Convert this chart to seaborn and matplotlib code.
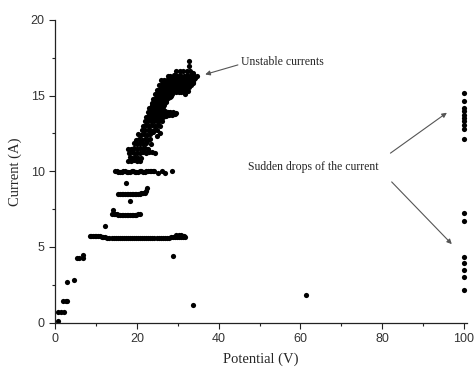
import matplotlib
matplotlib.use("Agg")
import matplotlib.pyplot as plt
import seaborn as sns
import pandas as pd
from matplotlib.ticker import MultipleLocator

sns.set_style("ticks")
plt.rcParams['font.family'] = ['Liberation Sans', 'DejaVu Sans']

# low-voltage ramp
ramp_x = [0.8, 0.8, 1.5, 2.1, 2.0, 2.6, 3.0, 2.9, 4.6, 5.3, 5.9, 6.7, 6.7]
ramp_y = [0.13, 0.71, 0.71, 0.71, 1.46, 1.46, 1.46, 2.72, 2.83, 4.3, 4.3, 4.5, 4.27]

# plateau around 5.6 A
plat_x = [8.5, 8.9, 9.3, 9.7, 10.1, 10.5, 10.9, 11.4, 11.8, 12.3, 12.8, 13.3, 13.8,
          14.3, 14.8, 15.3, 15.8, 16.3, 16.8, 17.3, 17.8, 18.3, 18.8, 19.3, 19.8,
          20.3, 20.8, 21.3, 21.8, 22.3, 22.8, 23.3, 23.8, 24.3, 24.8, 25.3, 25.8,
          26.3, 26.8, 27.3, 27.8, 28.3, 28.8, 29.3, 29.8, 30.3, 30.8, 31.3, 31.8,
          29.5, 30.2, 30.9, 31.5, 12.3, 28.8]
plat_y = [5.74, 5.74, 5.73, 5.73, 5.72, 5.71, 5.70, 5.68, 5.66, 5.64, 5.62, 5.62, 5.62,
          5.62, 5.62, 5.62, 5.62, 5.62, 5.62, 5.62, 5.62, 5.62, 5.62, 5.62, 5.62,
          5.62, 5.62, 5.62, 5.62, 5.62, 5.62, 5.62, 5.62, 5.62, 5.62, 5.62, 5.62,
          5.62, 5.62, 5.62, 5.62, 5.63, 5.64, 5.65, 5.66, 5.66, 5.66, 5.66, 5.64,
          5.76, 5.78, 5.76, 5.74, 6.36, 4.42]

# steps at ~7.2, ~8.5 and ~10 A
step_x = [13.9, 14.3, 14.7, 15.1, 15.5, 15.9, 16.3, 16.7, 17.1, 17.5, 17.9, 18.3,
          18.7, 19.1, 19.5, 19.9, 20.3, 20.7, 14.2,
          15.5, 15.9, 16.3, 16.7, 17.1, 17.5, 17.9, 18.3, 18.7, 19.1, 19.5, 19.9,
          20.3, 20.7, 21.1, 21.5, 21.9, 22.3, 22.4, 18.3, 17.4,
          14.7, 15.1, 15.5, 15.9, 16.3, 16.7, 17.1, 17.5, 17.9, 18.3, 18.7, 19.1,
          19.5, 19.9, 20.3, 20.7, 21.1, 21.5, 21.9, 22.3, 22.7, 23.1, 23.5, 23.9,
          24.3, 25.2, 26.2, 26.9, 28.6]
step_y = [7.18, 7.16, 7.15, 7.15, 7.14, 7.14, 7.14, 7.14, 7.14, 7.14, 7.14, 7.14,
          7.14, 7.14, 7.14, 7.14, 7.15, 7.16, 7.42,
          8.52, 8.52, 8.5, 8.5, 8.5, 8.5, 8.5, 8.5, 8.5, 8.5, 8.5, 8.5,
          8.5, 8.52, 8.54, 8.56, 8.6, 8.7, 8.9, 8.06, 9.25,
          10.0, 10.0, 9.98, 9.98, 9.98, 10.0, 10.0, 9.98, 9.98, 9.98, 10.0, 10.0,
          9.98, 9.98, 9.98, 10.0, 10.0, 9.98, 9.98, 10.0, 10.0, 10.02, 10.0, 10.0,
          10.0, 9.9, 10.05, 9.9, 10.0]

# rising band 10.5 - 17.3 A
band_x = [17.9, 18.6, 19.3, 20.0, 20.7,
          18.2, 18.9, 19.6, 20.3, 21.0,
          18.0, 18.7, 19.4, 20.1, 20.8, 21.5, 22.2, 23.0, 23.8, 24.4,
          17.9, 18.6, 19.3, 20.0, 20.7, 21.4, 22.1, 22.8,
          19.4, 20.1, 20.8, 21.5, 22.2, 23.4,
          19.8, 20.5, 21.2, 21.9, 22.6, 23.3,
          20.3, 21.0, 21.7, 22.4, 23.1, 24.9, 25.7,
          21.2, 21.9, 22.6, 23.3, 24.2, 25.0,
          21.6, 22.3, 23.0, 23.7, 24.4, 25.1, 25.7,
          22.0, 22.7, 23.4, 24.1, 24.8, 25.5, 26.2,
          22.2, 22.9, 23.6, 24.3, 25.0, 25.7, 26.4, 27.1, 27.8, 28.5, 29.2,
          22.6, 23.3, 24.0, 24.7, 25.4, 26.1, 26.8, 27.5, 28.2, 28.9, 29.6,
          23.0, 23.7, 24.4, 25.1, 25.8, 26.5,
          23.6, 24.3, 25.0, 25.7, 26.4, 27.1,
          24.0, 24.7, 25.4, 26.1, 26.8, 27.5, 28.0,
          24.5, 25.2, 25.9, 26.6, 27.3, 28.0, 28.7, 31.8, 32.4,
          25.0, 25.7, 26.4, 27.1, 27.8, 28.5, 29.2, 29.9, 30.6, 31.3, 32.0,
          25.5, 26.2, 26.9, 27.6, 28.3, 29.0, 29.7, 30.4, 31.1, 31.8, 32.5, 33.3,
          26.0, 26.7, 27.4, 28.1, 28.8, 29.5, 30.2, 30.9, 31.6, 32.3, 33.0, 33.8,
          27.5, 28.2, 29.0, 29.8, 30.6, 31.4, 32.2, 33.0, 33.8, 34.6,
          29.5, 30.5, 31.3, 32.2, 33.0, 33.8,
          32.7, 32.8, 34.0, 26.8, 24.0,
          # in-between points that fill the dense core
          22.6, 23.3, 24.0, 24.7, 25.4,
          23.0, 23.7, 24.4, 25.1, 25.8, 26.5, 27.2, 27.9, 28.6,
          23.4, 24.1, 24.8, 25.5, 26.2,
          23.8, 24.5, 25.2, 25.9, 26.6,
          24.3, 25.0, 25.7, 26.4, 27.1,
          24.8, 25.5, 26.2, 26.9, 27.6, 28.3,
          25.3, 26.0, 26.7, 27.4, 28.1, 28.8, 29.5, 30.2, 30.9, 31.6,
          25.8, 26.5, 27.2, 27.9, 28.6, 29.3, 30.0, 30.7, 31.4, 32.1, 32.8,
          26.8, 27.5, 28.2, 28.9, 29.6, 30.3, 31.0, 31.7, 32.4, 33.1, 33.8,
          28.5, 29.3, 30.1, 30.9, 31.7, 32.5, 33.3, 34.1]
band_y = [10.65, 10.7, 10.72, 10.7, 10.68,
          10.95, 10.9, 10.92, 10.9, 10.9,
          11.2, 11.25, 11.2, 11.22, 11.2, 11.25, 11.2, 11.25, 11.3, 11.2,
          11.5, 11.5, 11.55, 11.5, 11.52, 11.5, 11.55, 11.5,
          11.85, 11.8, 11.85, 11.8, 11.85, 11.8,
          12.1, 12.15, 12.1, 12.15, 12.1, 12.15,
          12.45, 12.4, 12.45, 12.4, 12.45, 12.3, 12.55,
          12.75, 12.7, 12.75, 12.7, 12.75, 12.7,
          13.0, 13.05, 13.0, 13.05, 13.0, 13.05, 13.0,
          13.3, 13.35, 13.3, 13.35, 13.3, 13.35, 13.3,
          13.6, 13.65, 13.6, 13.65, 13.6, 13.65, 13.6, 13.65, 13.7, 13.75, 13.8,
          13.9, 13.95, 13.9, 13.95, 13.9, 13.95, 13.9, 13.95, 13.95, 13.9, 13.85,
          14.2, 14.25, 14.2, 14.25, 14.2, 14.25,
          14.5, 14.55, 14.5, 14.55, 14.5, 14.55,
          14.8, 14.85, 14.8, 14.85, 14.8, 14.85, 14.9,
          15.1, 15.15, 15.1, 15.15, 15.1, 15.15, 15.1, 15.1, 15.3,
          15.4, 15.45, 15.4, 15.45, 15.4, 15.45, 15.4, 15.45, 15.4, 15.45, 15.4,
          15.7, 15.75, 15.7, 15.75, 15.7, 15.75, 15.7, 15.75, 15.7, 15.75, 15.7, 15.7,
          16.0, 16.05, 16.0, 16.05, 16.0, 16.05, 16.0, 16.05, 16.0, 16.05, 16.0, 15.9,
          16.3, 16.3, 16.35, 16.3, 16.35, 16.3, 16.35, 16.3, 16.35, 16.3,
          16.6, 16.6, 16.65, 16.6, 16.65, 16.5,
          17.3, 16.95, 16.1, 14.0, 12.6,
          13.45, 13.45, 13.45, 13.45, 13.45,
          13.75, 13.75, 13.75, 13.75, 13.75, 13.75, 13.75, 13.78, 13.8,
          14.05, 14.05, 14.05, 14.05, 14.05,
          14.35, 14.35, 14.35, 14.35, 14.35,
          14.65, 14.65, 14.65, 14.65, 14.65,
          14.95, 14.95, 14.95, 14.95, 14.95, 14.95,
          15.25, 15.25, 15.25, 15.25, 15.25, 15.25, 15.25, 15.25, 15.25, 15.25,
          15.55, 15.55, 15.55, 15.55, 15.55, 15.55, 15.55, 15.55, 15.55, 15.55, 15.55,
          15.85, 15.85, 15.85, 15.85, 15.85, 15.85, 15.85, 15.85, 15.85, 15.85, 15.85,
          16.15, 16.15, 16.15, 16.15, 16.15, 16.15, 16.15, 16.15]

# isolated points and drops at 100 V
iso_x = [33.6, 61.4, 100, 100, 100, 100, 100, 100, 100,
         100, 100, 100, 100, 100, 100, 100, 100, 100, 100]
iso_y = [1.15, 1.85, 7.24, 6.69, 4.37, 3.93, 3.49, 3.05, 2.15,
         15.19, 14.64, 14.2, 13.97, 13.75, 13.54, 13.31, 13.09, 12.81, 12.15]

df = pd.DataFrame({
    "Potential": ramp_x + plat_x + step_x + band_x + iso_x,
    "Current": ramp_y + plat_y + step_y + band_y + iso_y,
})

fig = plt.figure(figsize=(4.75, 3.69), dpi=100)
ax = fig.add_axes([0.116, 0.1255, 0.867, 0.8205])
sns.scatterplot(data=df, x="Potential", y="Current", color="black", s=14,
                linewidth=0, ax=ax)

ax.set_xlim(0, 100.7)
ax.set_ylim(0, 20)
ax.xaxis.set_major_locator(MultipleLocator(20))
ax.xaxis.set_minor_locator(MultipleLocator(10))
ax.yaxis.set_major_locator(MultipleLocator(5))
ax.yaxis.set_minor_locator(MultipleLocator(2.5))
ax.tick_params(which="major", direction="out", length=4, width=0.8,
               labelsize=9, colors="#222222", labelcolor="#333333")
ax.tick_params(which="minor", direction="out", length=2.5, width=0.8, colors="#222222")
sns.despine(ax=ax)
for s in ["left", "bottom"]:
    ax.spines[s].set_linewidth(0.9)
    ax.spines[s].set_color("#222222")

serif = ["Liberation Serif", "DejaVu Serif"]
ax.set_xlabel("Potential (V)", family=serif, fontsize=10.5, labelpad=5)
ax.set_ylabel("Current (A)", family=serif, fontsize=10.5, labelpad=6)

arrow = dict(arrowstyle="-|>", color="#555555", lw=0.8, mutation_scale=7,
             shrinkA=0, shrinkB=0)
ax.annotate("Unstable currents", xy=(36.7, 16.4), xytext=(45.5, 17.25),
            family=serif, fontsize=8.5, va="center", ha="left",
            arrowprops=dict(arrow, relpos=(0, 0.3)))
ax.text(47.2, 10.3, "Sudden drops of the current", family=serif, fontsize=8.5,
        va="center", ha="left")
ax.annotate("", xy=(95.8, 13.87), xytext=(82.0, 11.2), arrowprops=arrow)
ax.annotate("", xy=(97.0, 5.19), xytext=(82.3, 9.3), arrowprops=arrow)

fig.savefig("out.png", dpi=100)
